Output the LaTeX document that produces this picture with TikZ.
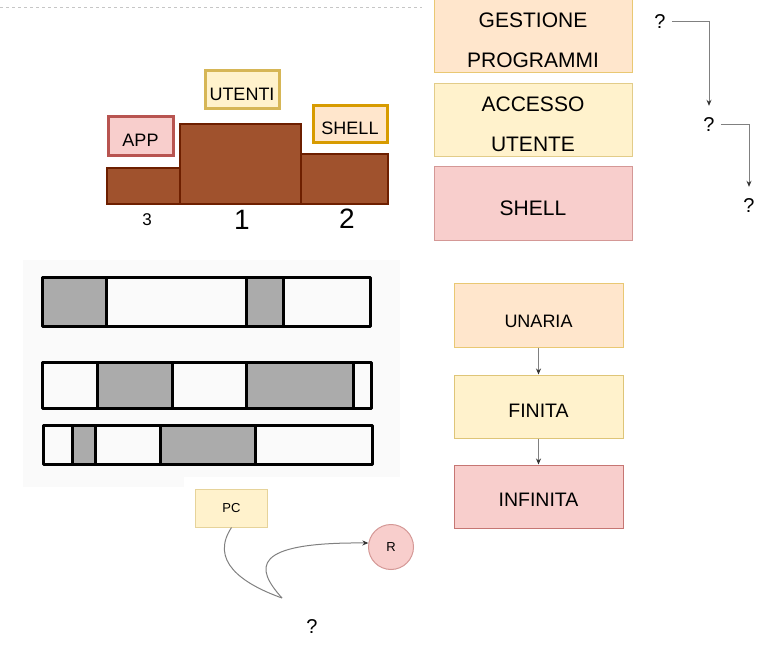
\documentclass[tikz,border=0pt]{standalone}
\usepackage{fontspec}
\setmainfont{Liberation Sans}
\usetikzlibrary{arrows.meta}
\definecolor{orfill}{HTML}{FFE6CC}\definecolor{ordraw}{HTML}{D79B00}
\definecolor{yefill}{HTML}{FFF2CC}\definecolor{yedraw}{HTML}{D6B656}
\definecolor{rdfill}{HTML}{F8CECC}\definecolor{rddraw}{HTML}{B85450}
\definecolor{podfill}{HTML}{A0522D}\definecolor{poddraw}{HTML}{6D1F00}
\definecolor{segfill}{HTML}{ABABAB}
\definecolor{linegray}{HTML}{808080}
\tikzset{
  fs/.style={font=\fontsize{#1}{#1}\selectfont},
  sbox/.style={draw, line width=1pt, inner sep=0pt, align=center, text depth=0pt},
  lbox/.style={draw, line width=3pt, inner sep=0pt, fs=18, text height=21pt, text depth=0pt},
  podbar/.style={draw=poddraw, fill=podfill, line width=2.5pt, inner sep=0pt},
  qmark/.style={inner sep=6pt, fs=20},
  garrow/.style={draw=linegray, line width=1pt, -{Stealth[length=6pt,width=5pt,color=black!80]}},
  barline/.style={line width=3pt, line join=round},
}
\begin{document}
\begin{tikzpicture}[x=1pt,y=-1pt]
\useasboundingbox (0,0) rectangle (768,652);
% top dashed line
\draw[gray!45, dashed, line width=0.6pt] (0,7) -- (422,7);

% podium
\node[podbar, minimum width=73, minimum height=36] (p3) at (143.5,186) {};
\node[podbar, minimum width=121, minimum height=80] (p1) at (240.5,164) {};
\node[podbar, minimum width=87, minimum height=50] (p2) at (344.5,179) {};
\node[fs=17] (n3) at (147,220) {3};
\node[fs=28] (n1) at (242,220) {1};
\node[fs=28] (n2) at (347,219) {2};
\node[lbox, draw=rddraw, fill=rdfill, minimum width=65, minimum height=39] (app) at (140.5,136.5) {APP};
\node[lbox, draw=yedraw, fill=yefill, minimum width=74, minimum height=38] (ute) at (242,90) {UTENTI};
\node[lbox, draw=ordraw, fill=orfill, minimum width=74, minimum height=37] (shl) at (350,124.5) {SHELL};

% right stack
\node[sbox, draw=ordraw!55, fill=orfill, minimum width=198, minimum height=73, font=\fontsize{21}{40}\selectfont, text height=63pt] (gp) at (533,36.5) {GESTIONE\\PROGRAMMI};
\node[sbox, draw=yedraw!70, fill=yefill, minimum width=198, minimum height=73, font=\fontsize{21}{40}\selectfont, text height=63pt] (au) at (533,120.5) {ACCESSO\\UTENTE};
\node[sbox, draw=rddraw!60, fill=rdfill, minimum width=198, minimum height=74, fs=21, text height=23pt] (sh) at (533,204) {SHELL};

% question marks
\node[qmark] (q1) at (660,22) {?};
\node[qmark] (q2) at (709,125) {?};
\node[qmark] (q3) at (749,206) {?};
\draw[garrow, shorten >=6pt] (q1.east) -| (q2.north);
\draw[garrow, shorten >=6pt] (q2.east) -| (q3.north);

% bars section
\fill[black!2] (23,260) rectangle (400,477);
\fill[black!2] (23,477) rectangle (184,487);
\fill[segfill] (42,278) rectangle (106,326);
\fill[segfill] (246,278) rectangle (283,326);
\foreach \x in {106,246,283} \draw[barline] (\x,278) -- (\x,326);
\draw[barline] (42,278) rectangle (370,326);

\fill[segfill] (97,362) rectangle (172,408);
\fill[segfill] (246,362) rectangle (353,408);
\foreach \x in {97,172,246,353} \draw[barline] (\x,362) -- (\x,408);
\draw[barline] (42,362) rectangle (371,408);

\fill[segfill] (72,425) rectangle (95,464);
\fill[segfill] (160,425) rectangle (255,464);
\foreach \x in {72,95,160,255} \draw[barline] (\x,425) -- (\x,464);
\draw[barline] (43,425) rectangle (372,464);

% flow
\node[sbox, draw=ordraw!55, fill=orfill, minimum width=169, minimum height=63, fs=18, text height=23pt] (un) at (538.5,315.5) {UNARIA};
\node[sbox, draw=yedraw!80, fill=yefill, minimum width=169, minimum height=63, fs=19.5, text height=22pt] (fi) at (538.5,406.5) {FINITA};
\node[sbox, draw=rddraw!80, fill=rdfill, minimum width=169, minimum height=63, fs=19.5, text height=20pt] (in) at (538.5,496.5) {INFINITA};
\draw[garrow] (un) -- (fi);
\draw[garrow] (fi) -- (in);

% PC / R
\node[sbox, draw=yedraw!60, fill=yefill, minimum width=72, minimum height=38, fs=13] (pc) at (231.5,508) {PC};
\node[draw=rddraw!60, fill=rdfill, circle, line width=1pt, minimum size=45, inner sep=0pt, fs=13] (r) at (391,547) {R};
\coordinate (turn) at (282,598);
\draw[linegray, line width=1pt] (pc.south) .. controls (210,560) and (240,583) .. (turn);
\draw[garrow] (turn) .. controls (255,568) and (250,542) .. (r.170);
\node[fs=20] (q4) at (312,627) {?};
\end{tikzpicture}
\end{document}
